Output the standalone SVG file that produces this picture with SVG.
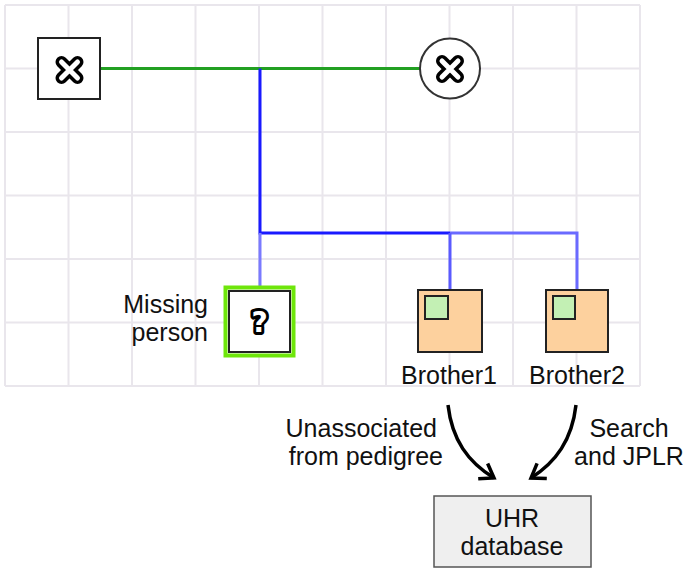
<svg xmlns="http://www.w3.org/2000/svg" width="685" height="570" viewBox="0 0 685 570">
<style>
.grid line{stroke:#e9e6ec;stroke-width:2}
.lbl{font-family:"Liberation Sans",Arial,sans-serif;font-size:25px;fill:#111}
.arrow{fill:none;stroke:#000;stroke-width:3.5}
</style>
<defs>
<marker id="ah" markerWidth="22" markerHeight="22" refX="17" refY="11" orient="auto" markerUnits="userSpaceOnUse" viewBox="0 0 22 22">
<path d="M4,2 L17,11 L4,20" fill="none" stroke="#000" stroke-width="3.5" stroke-linejoin="miter"/>
</marker>
<g id="xicon">
<path d="M-8,-8 L8,8 M8,-8 L-8,8" stroke="#000" stroke-width="12" stroke-linecap="round" fill="none"/>
<path d="M-8,-8 L8,8 M8,-8 L-8,8" stroke="#fff" stroke-width="5" stroke-linecap="round" fill="none"/>
</g>
</defs>
<rect width="685" height="570" fill="#fff"/>
<g class="grid">
<line x1="5" y1="5" x2="5" y2="386"/><line x1="68.5" y1="5" x2="68.5" y2="386"/><line x1="132" y1="5" x2="132" y2="386"/><line x1="195.5" y1="5" x2="195.5" y2="386"/><line x1="259" y1="5" x2="259" y2="386"/><line x1="322.5" y1="5" x2="322.5" y2="386"/><line x1="386" y1="5" x2="386" y2="386"/><line x1="449.5" y1="5" x2="449.5" y2="386"/><line x1="513" y1="5" x2="513" y2="386"/><line x1="576.5" y1="5" x2="576.5" y2="386"/><line x1="640" y1="5" x2="640" y2="386"/>
<line x1="5" y1="5" x2="640" y2="5"/><line x1="5" y1="68.5" x2="640" y2="68.5"/><line x1="5" y1="132" x2="640" y2="132"/><line x1="5" y1="195.5" x2="640" y2="195.5"/><line x1="5" y1="259" x2="640" y2="259"/><line x1="5" y1="322.5" x2="640" y2="322.5"/><line x1="5" y1="386" x2="640" y2="386"/>
</g>
<g id="connectors">
<line x1="100" y1="68.5" x2="420" y2="68.5" stroke="#22a022" stroke-width="3"/>
<path d="M260,68.5 V233 H450" fill="none" stroke="#1a1aff" stroke-width="3"/>
<path d="M260,233 V288" fill="none" stroke="#7a7aff" stroke-width="3"/>
<path d="M450,233 H577 V290" fill="none" stroke="#6a6aff" stroke-width="3"/>
<path d="M450,233 V290" fill="none" stroke="#5a5aff" stroke-width="3"/>
<path class="arrow" d="M448,405 C452,440 468,462 494,478" marker-end="url(#ah)"/>
<path class="arrow" d="M576,405 C572,440 556,462 531,478" marker-end="url(#ah)"/>
</g>
<g id="father">
<rect x="38" y="38" width="62" height="61" fill="#fff" stroke="#222" stroke-width="2"/>
<use href="#xicon" x="69.5" y="70"/>
</g>
<g id="mother">
<circle cx="450" cy="68.5" r="30" fill="#fff" stroke="#333" stroke-width="2"/>
<use href="#xicon" x="450" y="69"/>
</g>
<g id="missing">
<rect x="225.5" y="287.5" width="68" height="68" fill="#fff" stroke="#6ee60a" stroke-width="4"/>
<rect x="229" y="291" width="61" height="61" fill="#fff" stroke="#222" stroke-width="2"/>
<text x="259.5" y="332" text-anchor="middle" font-family="'DejaVu Sans',sans-serif" font-weight="bold" font-size="28" fill="#fff" stroke="#000" stroke-width="6" paint-order="stroke" stroke-linejoin="round">?</text>
<text class="lbl" text-anchor="end"><tspan x="208" y="313">Missing</tspan><tspan x="208" y="341">person</tspan></text>
</g>
<g id="brother1">
<rect x="418" y="290" width="64" height="62" fill="#fdd19e" stroke="#222" stroke-width="2"/>
<rect x="425" y="296" width="23" height="23" fill="#c3f0b4" stroke="#222" stroke-width="2"/>
<text class="lbl" x="449" y="384" text-anchor="middle">Brother1</text>
</g>
<g id="brother2">
<rect x="546" y="290" width="62" height="62" fill="#fdd19e" stroke="#222" stroke-width="2"/>
<rect x="553" y="296" width="22" height="23" fill="#c3f0b4" stroke="#222" stroke-width="2"/>
<text class="lbl" x="577" y="384" text-anchor="middle">Brother2</text>
</g>
<g id="labels">
<text class="lbl" text-anchor="end"><tspan x="437" y="437">Unassociated</tspan><tspan x="443" y="465">from pedigree</tspan></text>
<text class="lbl" text-anchor="middle"><tspan x="629" y="437">Search</tspan><tspan x="629" y="465">and JPLR</tspan></text>
</g>
<g id="uhr">
<rect x="434" y="496" width="157" height="71" fill="#efefef" stroke="#555" stroke-width="1.5"/>
<text class="lbl" text-anchor="middle"><tspan x="512" y="527">UHR</tspan><tspan x="512" y="555">database</tspan></text>
</g>
</svg>
